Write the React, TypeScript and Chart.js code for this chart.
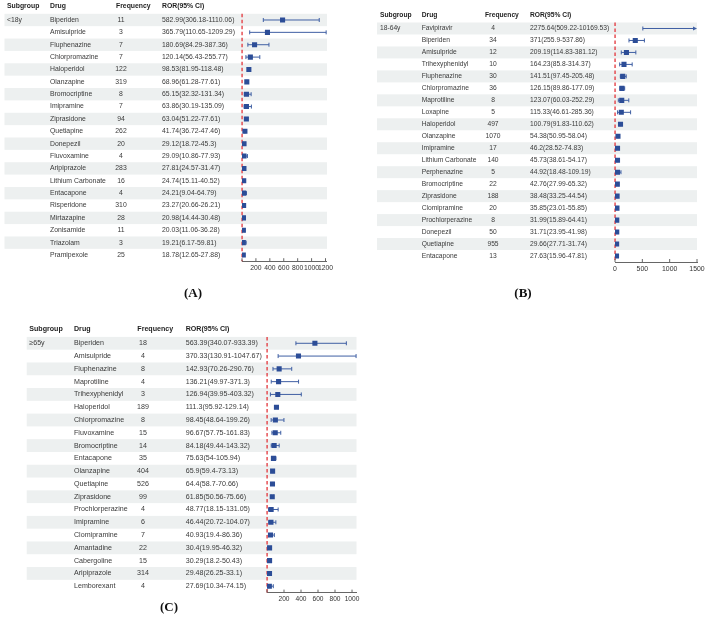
import React, { useEffect, useRef } from "react";
import { Chart, registerables } from "chart.js";

Chart.register(...registerables);

const W = 708;
const H = 617;
const FAMILY = '"Liberation Sans", Arial, Helvetica, sans-serif';

// ---------- Panel A : <18y ----------
const drugsA = ["Biperiden", "Amisulpride", "Fluphenazine", "Chlorpromazine", "Haloperidol", "Olanzapine", "Bromocriptine", "Imipramine", "Ziprasidone", "Quetiapine", "Donepezil", "Fluvoxamine", "Aripiprazole", "Lithium Carbonate", "Entacapone", "Risperidone", "Mirtazapine", "Zonisamide", "Triazolam", "Pramipexole"];
const freqA = [11, 3, 7, 7, 122, 319, 8, 7, 94, 262, 20, 4, 283, 16, 4, 310, 28, 11, 3, 25];
const rorA = [582.99, 365.79, 180.69, 120.14, 98.53, 68.96, 65.15, 63.86, 63.04, 41.74, 29.12, 29.09, 27.81, 24.74, 24.21, 23.27, 20.98, 20.03, 19.21, 18.78];
const lowA = [306.18, 110.65, 84.29, 56.43, 81.95, 61.28, 32.32, 30.19, 51.22, 36.72, 18.72, 10.86, 24.57, 15.11, 9.04, 20.66, 14.44, 11.06, 6.17, 12.65];
const highA = [1110.06, 1209.29, 387.36, 255.77, 118.48, 77.61, 131.34, 135.09, 77.61, 47.46, 45.3, 77.93, 31.47, 40.52, 64.79, 26.21, 30.48, 36.28, 59.81, 27.88];
const ticksA = [0, 200, 400, 600, 800, 1000, 1200];

// ---------- Panel B : 18-64y ----------
const drugsB = ["Favipiravir", "Biperiden", "Amisulpride", "Trihexyphenidyl", "Fluphenazine", "Chlorpromazine", "Maprotiline", "Loxapine", "Haloperidol", "Olanzapine", "Imipramine", "Lithium Carbonate", "Perphenazine", "Bromocriptine", "Ziprasidone", "Clomipramine", "Prochlorperazine", "Donepezil", "Quetiapine", "Entacapone"];
const freqB = [4, 34, 12, 10, 30, 36, 8, 5, 497, 1070, 17, 140, 5, 22, 188, 20, 8, 50, 955, 13];
const rorB = [2275.64, 371, 209.19, 164.23, 141.51, 126.15, 123.07, 115.33, 100.79, 54.38, 46.2, 45.73, 44.92, 42.76, 38.48, 35.85, 31.99, 31.71, 29.66, 27.63];
const lowB = [509.22, 255.9, 114.83, 85.8, 97.45, 89.86, 60.03, 46.61, 91.83, 50.95, 28.52, 38.61, 18.48, 27.99, 33.25, 23.01, 15.89, 23.95, 27.71, 15.96];
const highB = [10169.53, 537.86, 381.12, 314.37, 205.48, 177.09, 252.29, 285.36, 110.62, 58.04, 74.83, 54.17, 109.19, 65.32, 44.54, 55.85, 64.41, 41.98, 31.74, 47.81];
const ticksB = [0, 500, 1000, 1500];

// ---------- Panel C : >=65y ----------
const drugsC = ["Biperiden", "Amisulpride", "Fluphenazine", "Maprotiline", "Trihexyphenidyl", "Haloperidol", "Chlorpromazine", "Fluvoxamine", "Bromocriptine", "Entacapone", "Olanzapine", "Quetiapine", "Ziprasidone", "Prochlorperazine", "Imipramine", "Clomipramine", "Amantadine", "Cabergoline", "Aripiprazole", "Lemborexant"];
const freqC = [18, 4, 8, 4, 3, 189, 8, 15, 14, 35, 404, 526, 99, 4, 6, 7, 22, 15, 314, 4];
const rorC = [563.39, 370.33, 142.93, 136.21, 126.94, 111.3, 98.45, 96.67, 84.18, 75.63, 65.9, 64.4, 61.85, 48.77, 46.44, 40.93, 30.4, 30.29, 29.48, 27.69];
const lowC = [340.07, 130.91, 70.26, 49.97, 39.95, 95.92, 48.64, 57.75, 49.44, 54, 59.4, 58.7, 50.56, 18.15, 20.72, 19.4, 19.95, 18.2, 26.25, 10.34];
const highC = [933.39, 1047.67, 290.76, 371.3, 403.32, 129.14, 199.26, 161.83, 143.32, 105.94, 73.13, 70.66, 75.66, 131.05, 104.07, 86.36, 46.32, 50.43, 33.1, 74.15];
const ticksC = [0, 200, 400, 600, 800, 1000];

const headers = ["Subgroup", "Drug", "Frequency", "ROR(95% CI)"];

const SQUARE = "#2c4d97";
const LINE = "#3f5fa3";
const STRIPE = "#edf0f0";
const REF = "#e3353b";
const AXIS_H = 14;

type Panel = {
  subgroup: string;
  tag: string;
  drugs: string[];
  freq: number[];
  ror: number[];
  low: number[];
  high: number[];
  ticks: number[];
  xMax: number;
  showZero: boolean;
  left: number;
  right: number;
  top: number;
  bottom: number;
  cols: number[]; // subgroup, drug, freqHead, freqVal, ror
  stripe: number[];
  font: number;
  tickFont: number;
  tagPos: number[];
};

const panels: Panel[] = [
  {
    subgroup: "<18y", tag: "(A)",
    drugs: drugsA, freq: freqA, ror: rorA, low: lowA, high: highA, ticks: ticksA,
    xMax: 1210, showZero: false,
    left: 242, right: 326.2, top: 13.8, bottom: 261.2,
    cols: [7, 50, 116, 121, 162], stripe: [4.5, 327],
    font: 6.85, tickFont: 6.8, tagPos: [193, 294],
  },
  {
    subgroup: "18-64y", tag: "(B)",
    drugs: drugsB, freq: freqB, ror: rorB, low: lowB, high: highB, ticks: ticksB,
    xMax: 1500, showZero: true,
    left: 615, right: 697, top: 22.5, bottom: 262,
    cols: [380, 421.7, 485, 493, 530], stripe: [377, 697],
    font: 6.7, tickFont: 6.9, tagPos: [523, 293.5],
  },
  {
    subgroup: "\u226565y", tag: "(C)",
    drugs: drugsC, freq: freqC, ror: rorC, low: lowC, high: highC, ticks: ticksC,
    xMax: 1048, showZero: false,
    left: 267, right: 356.1, top: 336.9, bottom: 592.6,
    cols: [29.3, 74, 137.3, 143, 185.7], stripe: [26.7, 356.5],
    font: 7.1, tickFont: 6.6, tagPos: [169, 608],
  },
];

const font = (size: number, bold = false) => `${bold ? "bold " : ""}${size}px ${FAMILY}`;

function makePlugin(p: Panel) {
  return {
    id: "forest" + p.tag,
    beforeDraw(chart: any) {
      const { ctx, scales } = chart;
      const y = scales.y;
      ctx.save();
      ctx.fillStyle = STRIPE;
      p.drugs.forEach((_, i) => {
        if (i % 2 !== 0) return;
        const y1 = y.getPixelForValue(i - 0.5);
        const y2 = y.getPixelForValue(i + 0.5);
        ctx.fillRect(p.stripe[0], y1, p.stripe[1] - p.stripe[0], y2 - y1);
      });
      ctx.restore();
    },
    beforeDatasetsDraw(chart: any) {
      const { ctx, chartArea: ca, scales } = chart;
      const x = scales.x;
      const y = scales.y;
      ctx.save();
      // reference line at ROR = 1
      const rx = x.getPixelForValue(1);
      ctx.strokeStyle = REF;
      ctx.lineWidth = 1.3;
      ctx.setLineDash([3.5, 2.5]);
      ctx.beginPath();
      ctx.moveTo(rx, ca.top);
      ctx.lineTo(rx, ca.bottom);
      ctx.stroke();
      ctx.setLineDash([]);
      // confidence intervals
      ctx.strokeStyle = LINE;
      ctx.fillStyle = LINE;
      ctx.lineWidth = 1;
      p.low.forEach((lo, i) => {
        const yy = y.getPixelForValue(i);
        const x1 = x.getPixelForValue(lo);
        const clipped = p.high[i] > p.xMax;
        const x2 = clipped ? ca.right : x.getPixelForValue(p.high[i]);
        ctx.beginPath();
        ctx.moveTo(x1, yy);
        ctx.lineTo(clipped ? x2 - 3 : x2, yy);
        ctx.moveTo(x1, yy - 2);
        ctx.lineTo(x1, yy + 2);
        if (!clipped) {
          ctx.moveTo(x2, yy - 2);
          ctx.lineTo(x2, yy + 2);
        }
        ctx.stroke();
        if (clipped) {
          ctx.beginPath();
          ctx.moveTo(x2, yy);
          ctx.lineTo(x2 - 4, yy - 2);
          ctx.lineTo(x2 - 4, yy + 2);
          ctx.closePath();
          ctx.fill();
        }
      });
      ctx.restore();
    },
    afterDraw(chart: any) {
      const { ctx, chartArea: ca, scales } = chart;
      const x = scales.x;
      const y = scales.y;
      ctx.save();
      // inward tick marks
      ctx.strokeStyle = "#666";
      ctx.lineWidth = 1;
      ctx.beginPath();
      x.ticks.forEach((t: any) => {
        const px = x.getPixelForValue(t.value);
        ctx.moveTo(px, ca.bottom);
        ctx.lineTo(px, ca.bottom - 3);
      });
      ctx.stroke();
      // table
      ctx.textBaseline = "middle";
      const hy = y.getPixelForValue(-1.1);
      ctx.fillStyle = "#1e1e1e";
      ctx.font = font(p.font, true);
      ctx.textAlign = "left";
      ctx.fillText(headers[0], p.cols[0], hy);
      ctx.fillText(headers[1], p.cols[1], hy);
      ctx.fillText(headers[2], p.cols[2], hy);
      ctx.fillText(headers[3], p.cols[4], hy);
      ctx.font = font(p.font);
      ctx.fillStyle = "#3a3a3a";
      ctx.fillText(p.subgroup, p.cols[0], y.getPixelForValue(0));
      p.drugs.forEach((d, i) => {
        const yy = y.getPixelForValue(i);
        ctx.textAlign = "left";
        ctx.fillText(d, p.cols[1], yy);
        ctx.fillText(`${p.ror[i]}(${p.low[i]}-${p.high[i]})`, p.cols[4], yy);
        ctx.textAlign = "center";
        ctx.fillText(String(p.freq[i]), p.cols[3], yy);
      });
      // panel tag
      ctx.fillStyle = "#111";
      ctx.font = `bold 13px "Liberation Serif", "Times New Roman", serif`;
      ctx.textAlign = "center";
      ctx.fillText(p.tag, p.tagPos[0], p.tagPos[1]);
      ctx.restore();
    },
  };
}

function ForestPanel({ p }: { p: Panel }) {
  const ref = useRef<HTMLCanvasElement | null>(null);
  useEffect(() => {
    if (!ref.current) return;
    const chart = new Chart(ref.current, {
      type: "scatter",
      data: {
        datasets: [
          {
            data: p.ror.map((v, i) => ({ x: v, y: i })),
            pointStyle: "rect",
            pointRadius: 3.6,
            backgroundColor: SQUARE,
            borderColor: SQUARE,
            borderWidth: 0,
          },
        ],
      },
      options: {
        animation: false,
        responsive: false,
        events: [],
        layout: {
          padding: { left: p.left, right: W - p.right, top: p.top, bottom: H - p.bottom - AXIS_H },
        },
        plugins: { legend: { display: false }, tooltip: { enabled: false } },
        scales: {
          x: {
            type: "linear",
            min: 0,
            max: p.xMax,
            afterFit: (s: any) => {
              s.height = AXIS_H;
            },
            afterBuildTicks: (s: any) => {
              s.ticks = p.ticks.map((v) => ({ value: v }));
            },
            grid: { display: false, drawTicks: false, tickLength: 0 },
            border: { display: true, color: "#666", width: 1 },
            ticks: {
              autoSkip: false,
              maxRotation: 0,
              minRotation: 0,
              padding: 3,
              color: "#333",
              font: { family: FAMILY, size: p.tickFont },
              callback: (v: any) => (Number(v) === 0 && !p.showZero ? "" : String(v)),
            },
          },
          y: { type: "linear", display: false, min: -0.5, max: 19.5, reverse: true },
        },
      } as any,
      plugins: [makePlugin(p)],
    });
    return () => chart.destroy();
  }, [p]);
  return (
    <canvas
      ref={ref}
      width={W}
      height={H}
      style={{ position: "absolute", left: 0, top: 0, width: W, height: H }}
    />
  );
}

export default function App() {
  return (
    <div style={{ position: "absolute", left: 0, top: 0, width: W, height: H, background: "#fff" }}>
      {panels.map((p) => (
        <ForestPanel key={p.tag} p={p} />
      ))}
    </div>
  );
}
